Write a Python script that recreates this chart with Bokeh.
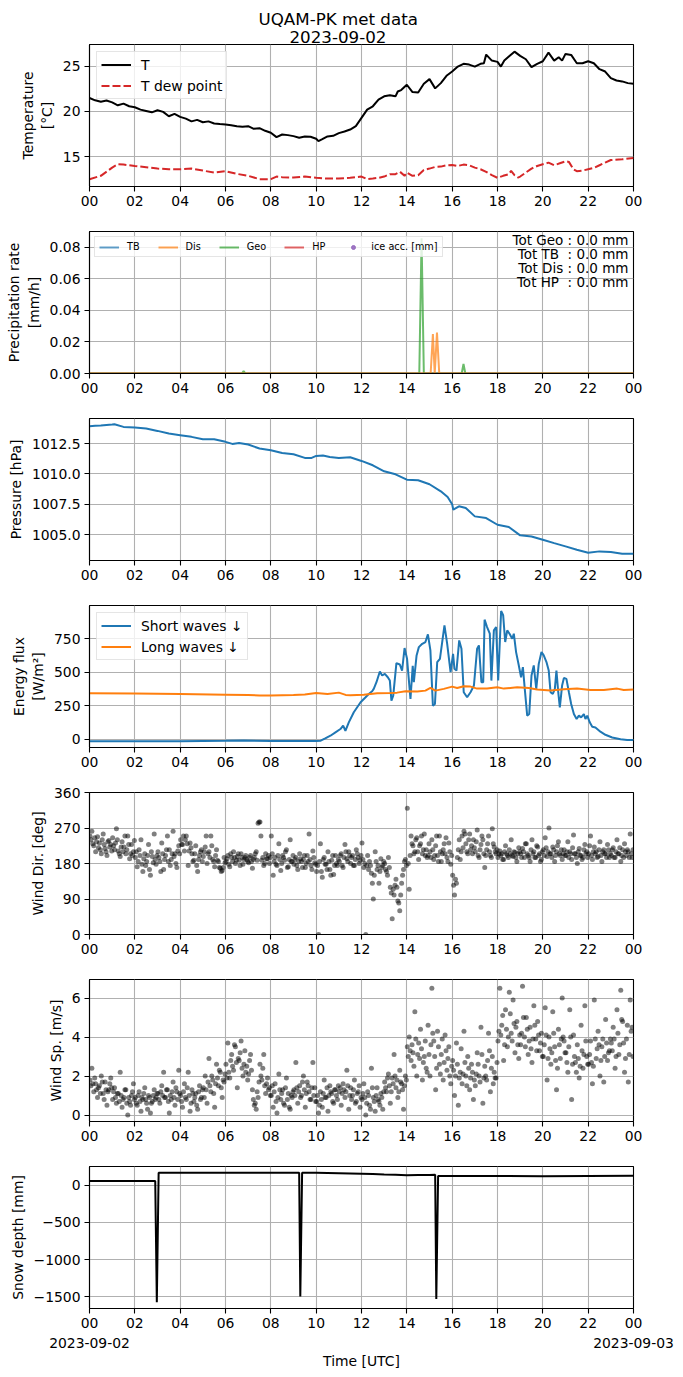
from bokeh.plotting import figure
from bokeh.layouts import column
from bokeh.models import (Range1d, FixedTicker, NumeralTickFormatter, Legend, LegendItem, Label, Title,
                          LinearAxis)
from bokeh.embed import file_html
from bokeh.resources import INLINE

FONT = "DejaVu Sans"
FS = "13.9px"
NAN = float("nan")

# ---------------- data ----------------
TITLE_LINES = ["UQAM-PK met data", "2023-09-02"]
HOUR_TICKS = [0, 2, 4, 6, 8, 10, 12, 14, 16, 18, 20, 22, 24]
HOUR_LABELS = ["00", "02", "04", "06", "08", "10", "12", "14", "16", "18", "20", "22", "00"]
DATE_TICKS = [0, 24]
DATE_LABELS = ["2023-09-02", "2023-09-03"]

T = [(0, 21.48), (0.25, 21.23), (0.5, 21.08), (0.75, 21.2), (1.0, 21.0), (1.25, 20.68), (1.5, 20.86),
     (1.75, 20.57), (2.0, 20.46), (2.25, 20.2), (2.5, 20.05), (2.75, 19.9), (3.0, 20.13), (3.25, 19.95),
     (3.5, 19.47), (3.75, 19.73), (4.0, 19.4), (4.25, 19.2), (4.5, 18.9), (4.75, 19.07), (5.0, 18.8),
     (5.25, 18.9), (5.5, 18.66), (5.75, 18.6), (6.0, 18.55), (6.25, 18.48), (6.5, 18.37), (6.75, 18.3),
     (7.0, 18.37), (7.25, 18.08), (7.5, 18.15), (7.75, 17.86), (8.0, 17.64), (8.25, 17.16), (8.5, 17.45),
     (8.75, 17.38), (9.0, 17.27), (9.25, 17.09), (9.5, 17.23), (9.75, 17.2), (10.0, 16.98), (10.1, 16.72),
     (10.25, 16.9), (10.5, 17.23), (10.75, 17.3), (11.0, 17.6), (11.25, 17.78), (11.5, 18.0), (11.75, 18.37),
     (12.0, 19.29), (12.25, 20.2), (12.5, 20.57), (12.75, 21.3), (13.0, 21.67), (13.25, 21.8), (13.5, 21.67),
     (13.6, 22.2), (13.75, 22.36), (14.0, 22.95), (14.25, 22.14), (14.5, 22.1), (14.75, 23.06), (15.0, 23.57),
     (15.25, 22.55), (15.5, 23.13), (15.75, 23.94), (16.0, 24.41), (16.25, 24.96), (16.5, 25.26),
     (16.75, 25.18), (17.0, 24.96), (17.25, 25.26), (17.4, 25.33), (17.5, 26.28), (17.75, 25.62),
     (18.0, 25.48), (18.15, 24.96), (18.3, 25.62), (18.5, 26.06), (18.75, 26.61), (19.0, 26.14),
     (19.25, 25.77), (19.5, 24.89), (19.75, 25.26), (20.0, 25.55), (20.25, 26.5), (20.5, 25.62),
     (20.7, 25.99), (20.85, 25.62), (21.0, 26.36), (21.25, 26.25), (21.5, 25.33), (21.75, 25.33),
     (22.0, 25.55), (22.25, 25.33), (22.5, 24.67), (22.75, 24.41), (23.0, 23.68), (23.25, 23.42),
     (23.5, 23.32), (23.75, 23.13), (24.0, 23.06)]

TD = [(0, 12.51), (0.5, 12.88), (1.0, 13.79), (1.25, 14.16), (1.5, 14.12), (2.0, 13.97), (2.5, 13.83),
      (3.0, 13.68), (3.5, 13.61), (4.0, 13.61), (4.5, 13.68), (5.0, 13.46), (5.5, 13.24), (6.0, 13.39),
      (6.5, 13.1), (7.0, 12.88), (7.5, 12.51), (8.0, 12.51), (8.25, 12.8), (8.5, 12.73), (9.0, 12.69),
      (9.5, 12.8), (10.0, 12.66), (10.5, 12.58), (11.0, 12.58), (11.5, 12.66), (12.0, 12.8), (12.25, 12.51),
      (12.5, 12.58), (12.75, 12.66), (13.0, 12.8), (13.25, 13.06), (13.5, 13.06), (13.7, 13.32),
      (13.9, 12.88), (14.0, 13.24), (14.25, 12.88), (14.5, 12.95), (14.75, 13.53), (15.0, 13.68),
      (15.25, 13.86), (15.5, 13.9), (15.75, 14.05), (16.0, 14.08), (16.25, 13.97), (16.5, 14.12),
      (16.75, 14.05), (17.0, 13.79), (17.25, 13.61), (17.5, 13.32), (17.75, 12.95), (18.0, 12.66),
      (18.25, 12.88), (18.5, 13.06), (18.6, 13.42), (18.75, 12.95), (18.9, 12.69), (19.0, 12.8),
      (19.25, 13.24), (19.5, 13.68), (19.75, 13.97), (20.0, 14.16), (20.25, 14.34), (20.5, 14.05),
      (20.75, 14.27), (21.0, 14.49), (21.15, 14.42), (21.35, 13.61), (21.5, 13.39), (21.75, 13.46),
      (22.0, 13.61), (22.25, 13.75), (22.5, 14.05), (22.75, 14.34), (23.0, 14.63), (23.5, 14.71),
      (24.0, 14.85)]

PRECIP_TB = [(0, 0.0), (24, 0.0)]
PRECIP_HP = [(0, 0.0), (24, 0.0)]
PRECIP_GEO = [(0, 0.0), (6.72, 0.0), (6.8, 0.0015), (6.88, 0.0), (14.55, 0.0), (14.65, 0.0857),
              (14.75, 0.0), (16.42, 0.0), (16.5, 0.006), (16.58, 0.0), (24, 0.0)]
PRECIP_DIS = [(0, 0.0), (15.05, 0.0), (15.15, 0.025), (15.23, 0.0), (15.33, 0.026), (15.43, 0.0), (24, 0.0)]
ICE_ACC = [(0, NAN)]
TOTALS = [("Tot Geo :", 0.0), ("Tot TB\u00a0\u00a0:", 0.0), ("Tot Dis :", 0.0), ("Tot HP\u00a0\u00a0:", 0.0)]

PRES = [(0, 1013.93), (0.25, 1013.96), (0.5, 1013.98), (1.0, 1014.07), (1.1, 1014.09), (1.5, 1013.87),
        (2.0, 1013.82), (2.5, 1013.74), (3.0, 1013.54), (3.5, 1013.32), (4.0, 1013.19), (4.5, 1013.05),
        (5.0, 1012.86), (5.5, 1012.86), (6.0, 1012.64), (6.3, 1012.47), (6.6, 1012.55), (7.0, 1012.42),
        (7.5, 1012.09), (8.0, 1011.95), (8.5, 1011.73), (9.0, 1011.62), (9.5, 1011.32), (9.8, 1011.32),
        (10.0, 1011.48), (10.3, 1011.51), (10.6, 1011.4), (11.0, 1011.32), (11.5, 1011.37), (12.0, 1011.07),
        (12.5, 1010.71), (13.0, 1010.22), (13.5, 1009.97), (14.0, 1009.53), (14.5, 1009.48), (15.0, 1009.15),
        (15.5, 1008.57), (15.8, 1008.1), (16.0, 1007.5), (16.05, 1007.06), (16.3, 1007.34), (16.6, 1007.2),
        (17.0, 1006.51), (17.5, 1006.37), (18.0, 1005.82), (18.5, 1005.63), (19.0, 1004.95), (19.5, 1004.86),
        (20.0, 1004.59), (20.5, 1004.31), (21.0, 1004.04), (21.5, 1003.76), (22.0, 1003.52), (22.5, 1003.63),
        (23.0, 1003.57), (23.5, 1003.43), (24.0, 1003.43)]

SW = [(0, -17), (2, -17), (4, -16), (6, -13), (6.8, -10), (8, -15), (9, -15), (10, -15), (10.2, -12),
      (10.4, 5), (10.63, 25), (10.85, 50), (11.07, 75), (11.19, 100), (11.29, 62), (11.44, 125), (11.66, 200),
      (11.96, 275), (12.18, 312), (12.32, 337), (12.47, 357), (12.54, 375), (12.66, 425), (12.81, 505),
      (12.91, 475), (13.03, 487), (13.16, 462), (13.25, 437), (13.32, 287), (13.4, 325), (13.54, 567),
      (13.69, 557), (13.79, 512), (13.9, 680), (14.01, 600), (14.16, 300), (14.26, 547), (14.31, 425),
      (14.43, 625), (14.53, 687), (14.68, 712), (14.82, 725), (14.93, 782), (15.04, 662), (15.15, 250),
      (15.24, 262), (15.34, 575), (15.46, 600), (15.56, 725), (15.66, 850), (15.78, 712), (15.93, 500),
      (16.04, 637), (16.1, 525), (16.19, 512), (16.31, 737), (16.41, 675), (16.51, 350), (16.66, 312),
      (16.81, 350), (16.96, 400), (17.1, 675), (17.18, 700), (17.29, 425), (17.37, 425), (17.43, 892),
      (17.54, 837), (17.66, 787), (17.73, 437), (17.84, 812), (17.94, 837), (18.03, 437), (18.16, 957),
      (18.25, 925), (18.34, 725), (18.43, 812), (18.53, 787), (18.65, 750), (18.72, 787), (18.82, 650),
      (18.94, 550), (19.04, 462), (19.12, 537), (19.21, 362), (19.31, 175), (19.4, 187), (19.5, 475),
      (19.6, 550), (19.71, 375), (19.82, 562), (19.94, 650), (20.04, 625), (20.16, 575), (20.26, 512),
      (20.34, 350), (20.44, 337), (20.53, 375), (20.6, 512), (20.68, 350), (20.75, 237), (20.85, 400),
      (20.93, 457), (21.04, 450), (21.15, 350), (21.25, 262), (21.37, 187), (21.49, 150), (21.59, 175),
      (21.69, 162), (21.81, 187), (21.88, 150), (21.96, 175), (22.07, 125), (22.18, 92), (22.32, 87),
      (22.54, 55), (22.76, 32), (23.06, 12), (23.43, -2), (23.72, -7), (24.0, -7)]

LW = [(0, 342), (2, 340), (4, 337), (6, 332), (7, 330), (7.5, 325), (8, 325), (9, 330), (9.5, 333),
      (10, 345), (10.5, 337), (11, 347), (11.3, 330), (11.51, 327), (12.1, 332), (12.69, 342), (13.28, 345),
      (13.57, 347), (13.94, 357), (14.46, 355), (14.82, 362), (15.04, 382), (15.26, 362), (15.63, 375),
      (16.0, 392), (16.22, 382), (16.51, 395), (16.81, 392), (17.1, 377), (17.54, 377), (17.99, 387),
      (18.28, 377), (18.87, 387), (19.38, 382), (19.75, 370), (20.34, 362), (20.93, 372), (21.51, 377),
      (22.1, 367), (22.69, 367), (23.28, 377), (23.57, 367), (24.0, 370)]

# wind direction [deg], readings through each hour 00..23
WIND_DIR = [
    [250, 240, 262, 230, 225, 245, 210, 235, 248, 220, 232, 215, 205, 240, 255, 228, 218, 210, 200, 235, 238, 222, 228, 212],
    [245, 225, 215, 232, 268, 240, 212, 205, 198, 222, 235, 210, 222, 250, 205, 215, 250, 228, 192, 205, 228, 200, 210, 238],
    [195, 210, 172, 185, 215, 200, 240, 178, 160, 192, 205, 175, 185, 200, 228, 165, 150, 210, 198, 182, 255, 190, 178, 200],
    [210, 195, 185, 160, 232, 205, 165, 190, 200, 215, 250, 185, 215, 175, 190, 205, 262, 198, 205, 180, 170, 212, 225, 205],
    [240, 228, 228, 250, 212, 240, 250, 230, 175, 212, 232, 220, 205, 185, 188, 205, 225, 175, 160, 190, 200, 210, 215, 185],
    [198, 210, 222, 250, 180, 205, 210, 195, 250, 225, 190, 185, 172, 200, 215, 188, 185, 170, 168, 160, 162, 170, 195, 182],
    [185, 192, 200, 178, 172, 205, 195, 185, 210, 195, 180, 188, 198, 205, 188, 175, 205, 195, 178, 190, 195, 200, 190, 185],
    [182, 195, 200, 185, 168, 190, 195, 205, 210, 188, 282, 285, 285, 250, 188, 195, 175, 180, 205, 192, 192, 200, 180, 195],
    [250, 205, 150, 185, 195, 178, 175, 200, 230, 190, 162, 180, 200, 195, 188, 210, 215, 170, 172, 190, 240, 185, 185, 200],
    [178, 190, 195, 175, 165, 185, 205, 192, 185, 170, 190, 200, 170, 180, 200, 185, 255, 190, 175, 165, 212, 195, 182, 178],
    [160, 175, 0, 185, 230, 160, 145, 190, 195, 178, 178, 165, 210, 185, 165, 150, 188, 200, 152, 175, 200, 180, 175, 190],
    [185, 200, 205, 175, 170, 195, 228, 210, 192, 185, 210, 200, 180, 195, 200, 175, 175, 190, 215, 205, 195, 180, 188, 200],
    [232, 190, 170, 180, 0, 175, 200, 165, 185, 175, 155, 130, 90, 150, 210, 185, 165, 175, 130, 160, 192, 170, 175, 185],
    [180, 165, 160, 150, 195, 170, 120, 105, 40, 115, 100, 125, 140, 120, 85, 80, 60, 100, 130, 150, 165, 185, 190, 175],
    [320, 180, 115, 200, 250, 230, 225, 205, 210, 240, 245, 210, 190, 225, 230, 250, 205, 215, 255, 200, 215, 195, 200, 230],
    [210, 195, 240, 215, 190, 200, 225, 250, 200, 185, 250, 210, 185, 205, 215, 230, 205, 245, 195, 185, 232, 210, 178, 200],
    [150, 125, 100, 140, 130, 195, 215, 240, 190, 210, 250, 220, 262, 255, 230, 210, 205, 240, 255, 215, 225, 205, 240, 220],
    [210, 235, 265, 200, 195, 215, 228, 250, 240, 205, 170, 200, 215, 230, 250, 210, 200, 195, 268, 230, 222, 210, 205, 215],
    [195, 205, 212, 200, 205, 190, 190, 210, 225, 205, 200, 195, 215, 205, 240, 200, 198, 210, 208, 195, 185, 205, 220, 210],
    [205, 195, 218, 210, 195, 230, 230, 205, 200, 195, 185, 215, 240, 205, 210, 195, 195, 225, 222, 200, 205, 185, 190, 210],
    [215, 200, 245, 220, 198, 210, 270, 205, 205, 195, 222, 215, 185, 200, 210, 225, 235, 205, 200, 215, 190, 205, 215, 200],
    [200, 210, 235, 195, 210, 205, 190, 220, 252, 205, 205, 195, 180, 210, 218, 200, 200, 190, 195, 215, 228, 205, 210, 195],
    [205, 225, 250, 200, 190, 210, 222, 205, 210, 195, 198, 215, 235, 200, 185, 210, 215, 205, 205, 195, 228, 215, 195, 205],
    [200, 215, 220, 195, 195, 210, 240, 205, 205, 220, 185, 200, 215, 195, 230, 210, 200, 215, 210, 195, 255, 205, 195, 215],
]

# wind speed [m/s], readings through each hour 00..23
WIND_SP = [
    [1.8, 1.5, 2.4, 1.6, 1.2, 1.9, 1.6, 1.3, 0.9, 1.4, 1.5, 1.1, 2.0, 1.7, 1.1, 0.8, 1.7, 1.3, 0.5, 1.2, 1.3, 1.6, 1.9, 1.4],
    [0.8, 1.2, 1.4, 0.9, 0.6, 1.1, 1.1, 0.7, 2.2, 1.0, 0.4, 0.8, 0.9, 1.3, 1.3, 0.6, 0.0, 0.9, 0.7, 0.5, 1.0, 1.2, 1.6, 0.8],
    [0.9, 0.6, 0.5, 1.0, 1.2, 0.7, 0.2, 0.9, 0.8, 1.1, 1.4, 0.8, 0.6, 0.3, 1.0, 0.9, 0.1, 0.6, 0.7, 1.0, 1.3, 0.8, 0.9, 1.1],
    [1.1, 0.8, 0.6, 1.2, 1.5, 1.0, 2.2, 0.9, 0.9, 1.3, 1.3, 0.7, 0.1, 1.0, 0.8, 1.2, 1.7, 0.9, 0.5, 1.4, 1.2, 0.8, 2.3, 1.1],
    [1.0, 0.7, 0.4, 1.2, 1.6, 0.9, 0.8, 1.4, 2.2, 1.0, 0.2, 0.6, 1.3, 1.1, 0.7, 0.9, 1.1, 0.5, 0.3, 1.2, 1.5, 0.8, 0.9, 1.3],
    [1.4, 0.9, 2.0, 1.3, 0.6, 1.7, 2.9, 1.5, 1.2, 2.0, 1.8, 1.1, 0.4, 1.6, 2.6, 1.9, 1.5, 2.3, 2.2, 1.4, 0.9, 1.8, 1.7, 2.1],
    [2.6, 1.9, 3.7, 2.2, 1.9, 2.8, 3.1, 2.5, 2.3, 3.6, 3.5, 2.7, 1.4, 2.9, 2.8, 3.2, 3.8, 2.4, 2.0, 2.6, 3.3, 2.2, 2.5, 1.8],
    [2.1, 2.8, 3.1, 2.3, 1.3, 0.8, 0.5, 0.6, 0.3, 1.2, 0.9, 1.7, 2.6, 2.0, 1.8, 2.4, 3.1, 1.5, 1.1, 1.6, 1.9, 1.3, 1.4, 1.0],
    [1.0, 1.5, 0.4, 1.2, 1.6, 0.7, 0.1, 0.9, 2.1, 1.3, 0.8, 1.1, 1.3, 0.6, 0.5, 1.4, 1.9, 0.8, 1.1, 0.4, 0.3, 1.0, 0.9, 1.2],
    [1.3, 1.0, 2.7, 1.4, 0.6, 1.2, 1.5, 0.9, 1.0, 1.7, 2.0, 1.3, 0.4, 1.1, 1.7, 1.5, 1.2, 0.8, 0.8, 1.4, 2.7, 1.0, 1.4, 0.7],
    [0.7, 1.0, 0.1, 0.5, 1.2, 0.8, 0.4, 1.1, 1.8, 0.9, 0.9, 1.4, 0.2, 1.0, 1.5, 1.2, 1.1, 0.7, 0.6, 1.3, 1.3, 1.0, 0.8, 1.5],
    [1.2, 1.4, 0.5, 1.1, 1.6, 1.3, 0.9, 1.2, 2.3, 1.5, 0.3, 1.0, 1.4, 0.8, 1.0, 1.3, 1.8, 0.6, 0.7, 1.1, 1.2, 1.5, 0.4, 0.9],
    [0.8, 1.1, 1.6, 0.9, 0.0, 0.6, 1.2, 1.0, 0.5, 0.3, 2.4, 1.4, 0.9, 0.7, 0.2, 1.0, 1.4, 0.8, 0.7, 0.5, 1.1, 0.9, 0.3, 1.2],
    [1.7, 1.4, 1.2, 1.9, 2.1, 1.5, 0.6, 1.2, 1.9, 1.6, 3.1, 2.0, 1.4, 1.8, 0.9, 1.2, 2.3, 1.7, 1.6, 1.3, 0.3, 1.5, 2.0, 1.8],
    [3.5, 3.0, 4.0, 3.3, 2.8, 3.6, 3.2, 2.5, 5.3, 3.9, 2.0, 3.1, 3.7, 2.9, 4.4, 3.4, 1.8, 2.7, 3.0, 3.8, 2.4, 2.2, 4.6, 3.1],
    [2.0, 3.6, 6.5, 4.2, 3.8, 3.0, 1.3, 2.4, 4.3, 3.5, 2.6, 2.1, 3.1, 3.9, 1.8, 2.7, 4.1, 3.3, 2.3, 2.9, 3.5, 2.0, 1.6, 2.5],
    [2.8, 2.3, 1.0, 2.0, 3.7, 2.6, 0.5, 1.9, 2.2, 3.4, 1.6, 2.1, 4.3, 2.7, 2.0, 1.5, 3.0, 2.4, 1.3, 1.9, 2.6, 2.2, 0.8, 1.8],
    [1.5, 2.1, 3.2, 2.6, 2.0, 1.7, 4.5, 3.1, 0.6, 1.9, 2.5, 2.0, 1.8, 2.8, 4.2, 3.3, 1.2, 2.4, 3.0, 1.6, 2.2, 1.9, 1.9, 2.7],
    [3.8, 4.3, 6.5, 4.1, 4.6, 5.1, 2.8, 3.6, 5.4, 4.4, 3.5, 4.0, 6.3, 5.2, 4.2, 3.8, 5.9, 4.7, 3.2, 4.5, 4.8, 3.6, 2.9, 4.1],
    [3.6, 4.2, 6.6, 5.0, 4.0, 3.5, 5.0, 4.4, 3.1, 3.8, 4.5, 3.4, 2.7, 3.9, 5.6, 4.6, 3.9, 3.3, 4.8, 4.1, 3.3, 3.7, 4.2, 3.0],
    [3.0, 3.6, 5.5, 4.1, 1.8, 2.9, 4.0, 3.4, 2.6, 3.2, 5.3, 4.2, 3.5, 2.8, 1.3, 2.4, 4.4, 3.6, 2.9, 3.9, 6.0, 4.0, 3.8, 3.2],
    [3.2, 2.7, 2.2, 3.5, 5.4, 4.0, 0.8, 2.6, 4.1, 3.0, 2.7, 2.2, 3.6, 2.9, 1.9, 2.5, 4.6, 3.3, 2.4, 3.1, 5.6, 3.8, 3.0, 2.6],
    [2.6, 3.1, 3.8, 2.7, 1.6, 2.5, 5.9, 3.9, 2.9, 3.4, 4.3, 3.6, 2.0, 2.8, 3.5, 3.9, 1.7, 3.0, 4.9, 3.7, 2.8, 3.2, 3.3, 3.9],
    [3.7, 3.3, 4.5, 3.9, 2.4, 3.0, 5.4, 4.2, 3.1, 3.6, 6.4, 4.9, 4.8, 3.7, 2.2, 2.9, 3.9, 4.6, 1.7, 3.1, 5.9, 4.3, 4.5, 3.0],
]

SNOW = [(0, 55), (1, 55), (2, 55), (2.9, 55), (2.97, -1570), (3.05, 165), (4, 165), (6, 165), (8, 165),
        (9.25, 165), (9.3, -1495), (9.38, 165), (10, 165), (11, 160), (12, 152), (12.5, 148), (13, 142),
        (13.5, 138), (14, 132), (14.5, 136), (15, 135), (15.25, 140), (15.3, -1527), (15.38, 122),
        (16, 124), (18, 124), (20, 120), (22, 124), (24, 126)]


def split(pairs):
    return [a for a, _ in pairs], [b for _, b in pairs]


def flatten_hourly(rows):
    xs, ys = [], []
    for h, row in enumerate(rows):
        n = len(row)
        for i, v in enumerate(row):
            xs.append(h + (i + 0.5) / n)
            ys.append(v)
    return xs, ys


# ---------------- styling helpers ----------------
FRAME_W = 544
FRAME_H = 142
LEFT = 89
RIGHT = 50
FIG_W = LEFT + FRAME_W + RIGHT


def style_axis(ax):
    ax.axis_line_color = "black"
    ax.axis_line_width = 1.1
    ax.major_tick_line_color = "black"
    ax.major_tick_line_width = 1.1
    ax.major_tick_in = 0
    ax.major_tick_out = 5
    ax.minor_tick_line_color = None
    ax.major_label_text_font = FONT
    ax.major_label_text_font_size = FS
    ax.major_label_text_color = "black"
    ax.major_label_standoff = 4
    ax.axis_label_text_font = FONT
    ax.axis_label_text_font_size = FS
    ax.axis_label_text_font_style = "normal"
    ax.axis_label_text_color = "black"
    ax.axis_label_standoff = 5


def base_fig(ylo, yhi, yticks, ylabel, top=18, bottom=27):
    p = figure(width=FIG_W, height=top + FRAME_H + bottom,
               x_range=Range1d(0, 24), y_range=Range1d(ylo, yhi),
               output_backend="svg", toolbar_location=None,
               min_border_left=LEFT, min_border_right=RIGHT,
               min_border_top=top, min_border_bottom=bottom)
    p.outline_line_color = "black"
    p.outline_line_width = 1.1
    p.outline_line_alpha = 1.0
    p.grid.grid_line_color = "#b0b0b0"
    p.grid.grid_line_width = 1.1
    style_axis(p.xaxis[0])
    style_axis(p.yaxis[0])
    p.xaxis.ticker = FixedTicker(ticks=HOUR_TICKS, minor_ticks=[])
    p.xaxis.major_label_overrides = {t: lab for t, lab in zip(HOUR_TICKS, HOUR_LABELS)}
    p.yaxis.ticker = FixedTicker(ticks=yticks, minor_ticks=[])
    p.yaxis.axis_label = ylabel
    return p


def style_legend(lg, fs, gw, gh, lh, spacing, padding, standoff, margin):
    lg.location = "top_left"
    lg.label_text_font = FONT
    lg.label_text_font_size = fs
    lg.label_text_color = "black"
    lg.glyph_width = gw
    lg.glyph_height = gh
    lg.label_height = lh
    lg.label_width = 1
    lg.spacing = spacing
    lg.padding = padding
    lg.label_standoff = standoff
    lg.margin = margin
    lg.border_line_color = "#cccccc"
    lg.border_line_width = 1.1
    lg.background_fill_color = "white"
    lg.background_fill_alpha = 0.8


BLUE, ORANGE, GREEN, RED, PURPLE = "#1f77b4", "#ff7f0e", "#2ca02c", "#d62728", "#9467bd"

# ---------------- panel 1: temperature ----------------
p1 = base_fig(11.7, 27.4, [15, 20, 25], "Temperature\n[°C]", top=44)
# the line nearest the frame is added first
for text, off in [(TITLE_LINES[1], 200), (TITLE_LINES[0], 169)]:
    p1.add_layout(Title(text=text, align="left", offset=off, standoff=0, vertical_align="top",
                        text_font=FONT, text_font_size="16.7px", text_font_style="normal",
                        text_color="black", text_line_height=1.1), "above")
tx, tv = split(T)
dx, dv = split(TD)
p1.line(tx, tv, color="black", line_width=2, legend_label="T")
p1.line(dx, dv, color=RED, line_width=2, line_dash="8 3", legend_label="T dew point")
style_legend(p1.legend[0], FS, 30, 17, 17, 4, 4, 10, 7)

# ---------------- panel 2: precipitation ----------------
p2 = base_fig(0, 0.09, [0, 0.02, 0.04, 0.06, 0.08], "Precipitation rate\n[mm/h]")
p2.yaxis.formatter = NumeralTickFormatter(format="0.00")
r_tb = p2.line(*split(PRECIP_TB), color=BLUE, line_width=2, alpha=0.7)
r_hp = p2.line(*split(PRECIP_HP), color=RED, line_width=2, alpha=0.7)
r_geo = p2.line(*split(PRECIP_GEO), color=GREEN, line_width=2, alpha=0.7)
r_dis = p2.line(*split(PRECIP_DIS), color=ORANGE, line_width=2, alpha=0.7)
ice_t, ice_v = split(ICE_ACC)
r_ice = p2.scatter(ice_t, ice_v, fill_color=PURPLE, line_color=PURPLE, size=6, alpha=0.9)
lg2 = Legend(items=[LegendItem(label="TB", renderers=[r_tb]),
                    LegendItem(label="Dis", renderers=[r_dis]),
                    LegendItem(label="Geo", renderers=[r_geo]),
                    LegendItem(label="HP", renderers=[r_hp]),
                    LegendItem(label="ice acc. [mm]", renderers=[r_ice])],
             orientation="horizontal")
style_legend(lg2, "9.7px", 20, 10, 10, 18, 4, 8, 5)
p2.add_layout(lg2)
tot_text = "\n".join(f"{name} {val:.1f} mm" for name, val in TOTALS)
p2.add_layout(Label(x=FRAME_W - 5, y=FRAME_H, x_units="screen", y_units="screen",
                    text=tot_text, text_align="right", text_baseline="top",
                    text_font=FONT, text_font_size="13.5px", text_color="black",
                    text_line_height=0.89))

# ---------------- panel 3: pressure ----------------
p3 = base_fig(1002.88, 1014.56, [1005, 1007.5, 1010, 1012.5], "Pressure [hPa]")
p3.yaxis.formatter = NumeralTickFormatter(format="0.0")
p3.line(*split(PRES), color=BLUE, line_width=2)

# ---------------- panel 4: radiation ----------------
p4 = base_fig(-63, 998, [0, 250, 500, 750], "Energy flux\n[W/m²]")
p4.line(*split(SW), color=BLUE, line_width=2, legend_label="Short waves ↓")
p4.line(*split(LW), color=ORANGE, line_width=2, legend_label="Long waves ↓")
style_legend(p4.legend[0], FS, 30, 17, 17, 4, 4, 10, 7)

# ---------------- panel 5: wind direction ----------------
p5 = base_fig(0, 360, [0, 90, 180, 270, 360], "Wind Dir. [deg]")
wdx, wdy = flatten_hourly(WIND_DIR)
p5.scatter(wdx, wdy, size=5, fill_color="black", fill_alpha=0.5, line_color=None)

# ---------------- panel 6: wind speed ----------------
p6 = base_fig(-0.33, 6.95, [0, 2, 4, 6], "Wind Sp. [m/s]")
wsx, wsy = flatten_hourly(WIND_SP)
p6.scatter(wsx, wsy, size=5, fill_color="black", fill_alpha=0.5, line_color=None)

# ---------------- panel 7: snow depth ----------------
p7 = base_fig(-1655, 250, [-1500, -1000, -500, 0], "Snow depth [mm]", bottom=69)
p7.yaxis.major_label_overrides = {-1500: "−1500", -1000: "−1000", -500: "−500", 0: "0"}
p7.line(*split(SNOW), color="black", line_width=2)
# second row of x labels: the dates, with the axis title underneath
date_axis = LinearAxis(ticker=FixedTicker(ticks=DATE_TICKS, minor_ticks=[]))
style_axis(date_axis)
date_axis.axis_line_color = None
date_axis.major_tick_line_color = None
date_axis.major_tick_out = 0
date_axis.major_label_standoff = 7
date_axis.major_label_overrides = {t: lab for t, lab in zip(DATE_TICKS, DATE_LABELS)}
date_axis.axis_label = "Time [UTC]"
date_axis.axis_label_standoff = 2
p7.add_layout(date_axis, "below")

layout = column(p1, p2, p3, p4, p5, p6, p7, spacing=0)
open("out.html", "w").write(file_html(layout, INLINE, title="UQAM-PK met data"))
